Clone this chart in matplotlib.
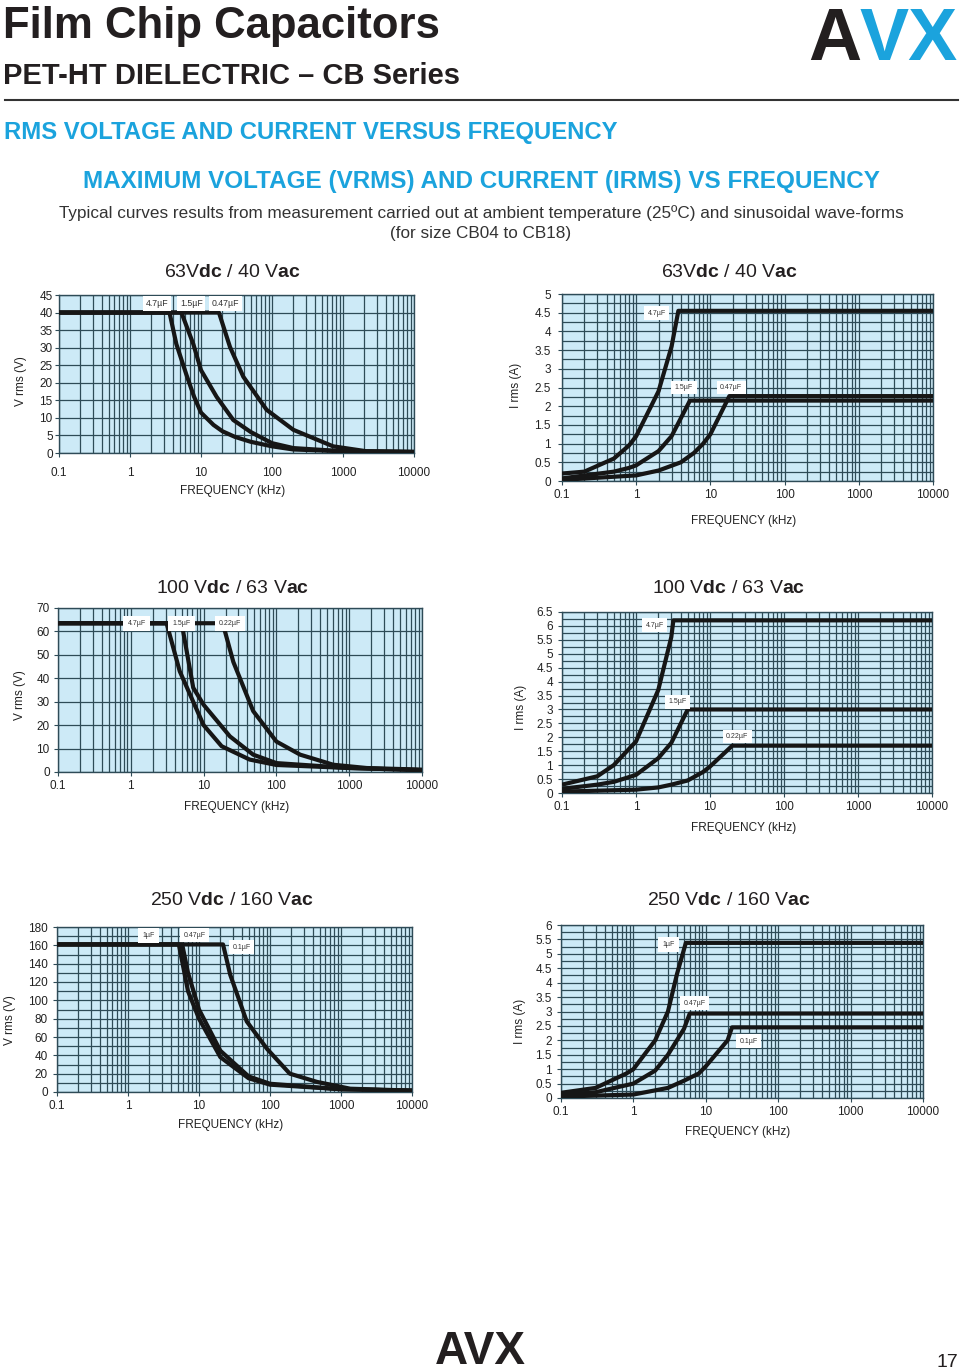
import matplotlib
matplotlib.use("Agg")
import matplotlib.pyplot as plt
from matplotlib.ticker import MultipleLocator, FixedLocator, LogLocator, NullFormatter, FuncFormatter

plt.rcParams['font.family'] = ['Liberation Sans', 'DejaVu Sans']
plt.rcParams['mathtext.fontset'] = 'custom'
plt.rcParams['mathtext.rm'] = 'Liberation Sans'
plt.rcParams['mathtext.bf'] = 'Liberation Sans:bold'

# ---------------- data ----------------
FREQ_TICKS = [0.1, 1, 10, 100, 1000, 10000]
FREQ_LABELS = ['0.1', '1', '10', '100', '1000', '10000']

# 63Vdc / 40Vac - voltage
v63_f_47 = [0.1, 3.6, 4.5, 6.3, 8, 10, 15, 20, 30, 50, 100, 200, 1000, 10000]
v63_v_47 = [40, 40, 31, 22, 16, 11.5, 8, 6.2, 4.6, 3.2, 1.9, 1.0, 0.5, 0.3]
v63_f_15 = [0.1, 5.3, 7.8, 10, 16.6, 28.5, 50, 100, 200, 1000, 10000]
v63_v_15 = [40, 40, 31, 23.6, 16, 9.4, 6.0, 2.8, 1.4, 0.5, 0.3]
v63_f_047 = [0.1, 17.9, 25.6, 39.5, 84, 200, 726, 2140, 10000]
v63_v_047 = [40, 40, 30.2, 21.7, 12.3, 6.6, 1.9, 0.5, 0.3]

# 63Vdc / 40Vac - current
i63_f_47 = [0.1, 0.2, 0.5, 0.8, 1, 2, 3, 3.7, 10000]
i63_i_47 = [0.2, 0.25, 0.6, 0.95, 1.2, 2.4, 3.6, 4.55, 4.55]
i63_f_15 = [0.1, 0.5, 0.8, 1, 2, 3, 5.3, 10000]
i63_i_15 = [0.07, 0.25, 0.35, 0.42, 0.8, 1.2, 2.15, 2.15]
i63_f_047 = [0.1, 1, 2, 4, 6, 8, 10, 18, 10000]
i63_i_047 = [0.03, 0.15, 0.28, 0.5, 0.75, 1.0, 1.25, 2.27, 2.27]

# 100Vdc / 63Vac - voltage
v100_f_47 = [0.1, 3.1, 4.7, 7.2, 10, 17.7, 43, 100, 1000, 10000]
v100_v_47 = [63.5, 63.5, 43, 30, 20, 11, 5.3, 3.0, 1.7, 0.8]
v100_f_15 = [0.1, 5.0, 7.2, 10, 23, 48, 100, 1000, 10000]
v100_v_15 = [63.5, 63.5, 36, 28.7, 15.2, 7.4, 3.8, 1.7, 0.8]
v100_f_022 = [0.1, 18.3, 25.6, 48, 100, 212, 604, 1740, 10000]
v100_v_022 = [63.5, 63.5, 47, 26, 13, 7.4, 3.1, 1.7, 1.0]

# 100Vdc / 63Vac - current
i100_f_47 = [0.1, 0.3, 0.5, 1, 2, 3, 3.2, 10000]
i100_i_47 = [0.3, 0.6, 1.0, 1.85, 3.7, 5.6, 6.2, 6.2]
i100_f_15 = [0.1, 0.3, 0.5, 1, 2, 3, 5, 10000]
i100_i_15 = [0.15, 0.3, 0.4, 0.65, 1.25, 1.8, 3.0, 3.0]
i100_f_022 = [0.1, 1, 2, 3, 5, 8, 10, 20, 10000]
i100_i_022 = [0.05, 0.12, 0.2, 0.3, 0.45, 0.75, 0.95, 1.7, 1.7]

# 250Vdc / 160Vac - voltage
v250_f_1 = [0.1, 5.2, 7, 10, 20, 50, 100, 1000, 10000]
v250_v_1 = [161, 161, 110, 80, 38, 15, 8, 3, 1.5]
v250_f_047 = [0.1, 5.8, 7, 10, 20, 50, 100, 1000, 10000]
v250_v_047 = [161, 161, 130, 90, 45, 17, 9, 3, 1.5]
v250_f_01 = [0.1, 21.8, 27.5, 47, 91, 190, 460, 1350, 10000]
v250_v_01 = [161, 161, 128, 77, 47, 20, 11, 3.6, 1.5]

# 250Vdc / 160Vac - current
i250_f_1 = [0.1, 0.3, 0.8, 1, 2, 3, 4, 5.3, 10000]
i250_i_1 = [0.18, 0.35, 0.85, 1.0, 2.0, 3.0, 4.3, 5.38, 5.38]
i250_f_047 = [0.1, 0.3, 1, 2, 3, 5, 6, 10000]
i250_i_047 = [0.1, 0.2, 0.5, 0.95, 1.5, 2.4, 2.93, 2.93]
i250_f_01 = [0.1, 1, 3, 5, 8, 10, 20, 23, 10000]
i250_i_01 = [0.05, 0.12, 0.35, 0.6, 0.85, 1.1, 2.0, 2.45, 2.45]

TITLE_63 = r"63V$\mathbf{dc}$ / 40 V$\mathbf{ac}$"
TITLE_100 = r"100 V$\mathbf{dc}$ / 63 V$\mathbf{ac}$"
TITLE_250 = r"250 V$\mathbf{dc}$ / 160 V$\mathbf{ac}$"

# ---------------- styling ----------------
W, H = 960, 1372
BG = '#cdeaf7'
GRID = '#2e4b57'
BLUE = '#1ba3dd'
LINE = '#161616'

fig = plt.figure(figsize=(W / 100, H / 100), dpi=100)


def fx(x):
    return x / W


def fy(y):
    return 1 - y / H


def make_ax(l, r, t, b, ymax, major, minor, xpad, ypad):
    ax = fig.add_axes([fx(l), fy(b), (r - l) / W, (b - t) / H])
    ax.set_xscale('log')
    ax.set_xlim(0.1, 10000)
    ax.set_ylim(0, ymax)
    ax.set_facecolor(BG)
    ax.xaxis.set_major_locator(FixedLocator(FREQ_TICKS))
    ax.set_xticklabels(FREQ_LABELS)
    ax.xaxis.set_minor_locator(LogLocator(base=10, subs=range(2, 10), numticks=20))
    ax.xaxis.set_minor_formatter(NullFormatter())
    ax.yaxis.set_major_locator(MultipleLocator(major))
    if minor:
        ax.yaxis.set_minor_locator(MultipleLocator(minor))
    ax.yaxis.set_major_formatter(FuncFormatter(lambda v, p: '%g' % v))
    ax.grid(which='both', color=GRID, lw=0.9)
    ax.set_axisbelow(True)
    ax.tick_params(which='minor', length=0)
    ax.tick_params(axis='x', which='major', length=3, width=0.8, color=GRID,
                   labelsize=8.5, pad=xpad, labelcolor='#222222')
    ax.tick_params(axis='y', which='major', length=3, width=0.8, color=GRID,
                   labelsize=8.5, pad=ypad, labelcolor='#222222')
    for s in ax.spines.values():
        s.set_color(GRID)
        s.set_linewidth(1.0)
    return ax


def curve(ax, f, v):
    ax.plot(f, v, color=LINE, lw=3.0, solid_joinstyle='round', solid_capstyle='butt', zorder=3)


def tag(ax, x, y, s, size, pad=0.3):
    ax.text(x, y, s, fontsize=size, color='#333333', ha='center', va='center', zorder=6,
            bbox=dict(boxstyle='square,pad=%g' % pad, fc='white', ec='none'))


def ftext(x, y, s, **kw):
    fig.text(fx(x), fy(y), s, **kw)


# ---------------- header ----------------
ftext(3, 38, 'Film Chip Capacitors', fontsize=31.5, fontweight='bold', color='#231f20', va='baseline')
ftext(3, 84, 'PET-HT DIELECTRIC \u2013 CB Series', fontsize=21, fontweight='bold', color='#231f20', va='baseline')
fig.add_artist(plt.Line2D([fx(5), fx(958)], [fy(100), fy(100)], color='#333333', lw=1.5))
ftext(4, 139, 'RMS VOLTAGE AND CURRENT VERSUS FREQUENCY', fontsize=17.2, fontweight='bold', color=BLUE, va='baseline')
ftext(481, 188, 'MAXIMUM VOLTAGE (VRMS) AND CURRENT (IRMS) VS FREQUENCY', fontsize=17.5, fontweight='bold',
      color=BLUE, va='baseline', ha='center')
ftext(481, 218, 'Typical curves results from measurement carried out at ambient temperature (25\u00baC) and sinusoidal wave-forms',
      fontsize=12.3, color='#333333', va='baseline', ha='center')
ftext(481, 238, '(for size CB04 to CB18)', fontsize=12.3, color='#333333', va='baseline', ha='center')

# logos
fig.text(fx(859), fy(60), 'VX', fontsize=53, fontweight='bold', color=BLUE, ha='left', va='baseline')
fig.text(fx(861), fy(60), 'A', fontsize=53, fontweight='bold', color='#231f20', ha='right', va='baseline')
ftext(480, 1364, 'AVX', fontsize=33, fontweight='bold', color='#231f20', ha='center', va='baseline')
ftext(958, 1367, '17', fontsize=14, color='#231f20', ha='right', va='baseline')

# ---------------- chart 1 ----------------
ax1 = make_ax(59, 414, 295, 453, 45, 5, None, 7, 1.5)
curve(ax1, v63_f_47, v63_v_47)
curve(ax1, v63_f_15, v63_v_15)
curve(ax1, v63_f_047, v63_v_047)
tag(ax1, 2.4, 42.6, '4.7\u00b5F', 6.3)
tag(ax1, 7.3, 42.6, '1.5\u00b5F', 6.3)
tag(ax1, 22, 42.6, '0.47\u00b5F', 6.3)
ftext(232, 277, TITLE_63, fontsize=14, ha='center', va='baseline', color='#231f20')
ftext(233, 491, 'FREQUENCY (kHz)', fontsize=8.5, ha='center', va='center', color='#222222')
ftext(21, 381, 'V rms (V)', fontsize=8.5, rotation=90, ha='center', va='center', color='#222222')

# ---------------- chart 2 ----------------
ax2 = make_ax(562, 933, 294, 481, 5, 0.5, 0.25, 3, 5)
curve(ax2, i63_f_47, i63_i_47)
curve(ax2, i63_f_15, i63_i_15)
curve(ax2, i63_f_047, i63_i_047)
tag(ax2, 1.9, 4.48, '4.7\u00b5F', 5, 0.5)
tag(ax2, 4.4, 2.5, '1.5\u00b5F', 5, 0.5)
tag(ax2, 19, 2.5, '0.47\u00b5F', 5, 0.5)
ftext(729, 277, TITLE_63, fontsize=14, ha='center', va='baseline', color='#231f20')
ftext(744, 521, 'FREQUENCY (kHz)', fontsize=8.5, ha='center', va='center', color='#222222')
ftext(516, 385, 'I rms (A)', fontsize=8.5, rotation=90, ha='center', va='center', color='#222222')

# ---------------- chart 3 ----------------
ax3 = make_ax(58, 422, 608, 772, 70, 10, None, 3, 3)
curve(ax3, v100_f_47, v100_v_47)
curve(ax3, v100_f_15, v100_v_15)
curve(ax3, v100_f_022, v100_v_022)
tag(ax3, 1.2, 63.5, '4.7\u00b5F', 5, 0.6)
tag(ax3, 5.0, 63.5, '1.5\u00b5F', 5, 0.6)
tag(ax3, 23, 63.5, '0.22\u00b5F', 5, 0.6)
ftext(233, 593, TITLE_100, fontsize=14, ha='center', va='baseline', color='#231f20')
ftext(237, 807, 'FREQUENCY (kHz)', fontsize=8.5, ha='center', va='center', color='#222222')
ftext(20, 695, 'V rms (V)', fontsize=8.5, rotation=90, ha='center', va='center', color='#222222')

# ---------------- chart 4 ----------------
ax4 = make_ax(562, 932, 612, 793, 6.5, 0.5, 0.25, 3, 3.5)
curve(ax4, i100_f_47, i100_i_47)
curve(ax4, i100_f_15, i100_i_15)
curve(ax4, i100_f_022, i100_i_022)
tag(ax4, 1.8, 6.03, '4.7\u00b5F', 5, 0.5)
tag(ax4, 3.6, 3.28, '1.5\u00b5F', 5, 0.5)
tag(ax4, 23.4, 2.03, '0.22\u00b5F', 5, 0.5)
ftext(729, 593, TITLE_100, fontsize=14, ha='center', va='baseline', color='#231f20')
ftext(744, 828, 'FREQUENCY (kHz)', fontsize=8.5, ha='center', va='center', color='#222222')
ftext(521, 707, 'I rms (A)', fontsize=8.5, rotation=90, ha='center', va='center', color='#222222')

# ---------------- chart 5 ----------------
ax5 = make_ax(57, 412, 927, 1092, 180, 20, 10, 3, 3.5)
curve(ax5, v250_f_1, v250_v_1)
curve(ax5, v250_f_047, v250_v_047)
curve(ax5, v250_f_01, v250_v_01)
tag(ax5, 1.95, 171, '1\u00b5F', 5, 0.6)
tag(ax5, 8.7, 171, '0.47\u00b5F', 5, 0.5)
tag(ax5, 40, 158, '0.1\u00b5F', 5, 0.5)
ftext(232, 905, TITLE_250, fontsize=14, ha='center', va='baseline', color='#231f20')
ftext(231, 1125, 'FREQUENCY (kHz)', fontsize=8.5, ha='center', va='center', color='#222222')
ftext(10, 1020, 'V rms (V)', fontsize=8.5, rotation=90, ha='center', va='center', color='#222222')

# ---------------- chart 6 ----------------
ax6 = make_ax(561, 923, 925, 1098, 6, 0.5, 0.25, 3, 3.5)
curve(ax6, i250_f_1, i250_i_1)
curve(ax6, i250_f_047, i250_i_047)
curve(ax6, i250_f_01, i250_i_01)
tag(ax6, 3.07, 5.33, '1\u00b5F', 5, 0.6)
tag(ax6, 7.0, 3.28, '0.47\u00b5F', 5, 0.5)
tag(ax6, 39, 1.97, '0.1\u00b5F', 5, 0.5)
ftext(729, 905, TITLE_250, fontsize=14, ha='center', va='baseline', color='#231f20')
ftext(738, 1132, 'FREQUENCY (kHz)', fontsize=8.5, ha='center', va='center', color='#222222')
ftext(520, 1021, 'I rms (A)', fontsize=8.5, rotation=90, ha='center', va='center', color='#222222')

fig.savefig('out.png', dpi=100)
